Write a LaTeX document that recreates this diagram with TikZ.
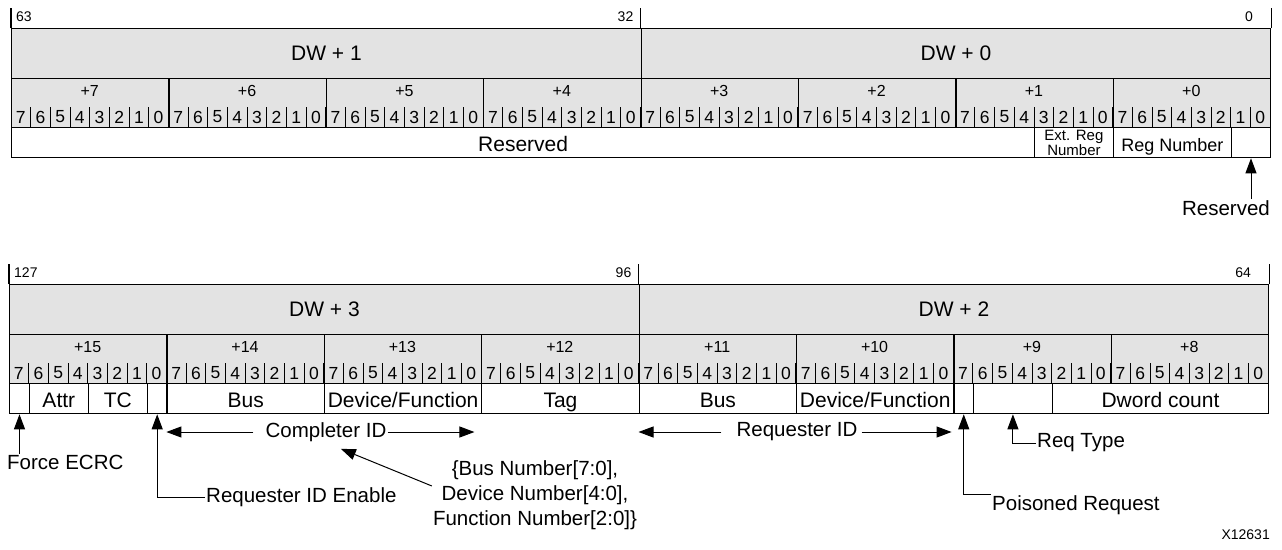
\documentclass[tikz,border=0pt]{standalone}
\usepackage{fontspec}
\setmainfont{Liberation Sans}
\usetikzlibrary{calc,positioning,arrows.meta}
\definecolor{hdrgray}{HTML}{E3E3E3}
\newcommand\bitw{19.672}
\tikzset{
    dw cell/.style={
        draw,line width=1.3pt,fill=hdrgray,anchor=north west,
        minimum width={32*\bitw},minimum height=50,inner sep=0pt,
        font=\fontsize{21}{21}\selectfont
    },
    byte cell/.style={
        draw,line width=1.3pt,fill=hdrgray,anchor=north west,
        minimum width={8*\bitw},minimum height=49,inner sep=0pt
    },
    byte label/.style={inner sep=0pt,font=\fontsize{16}{16}\selectfont},
    bit label/.style={inner sep=0pt,font=\fontsize{17.5}{17.5}\selectfont},
    tick label/.style={inner sep=1pt,font=\fontsize{14}{14}\selectfont},
    field box/.style={
        draw,line width=1.3pt,fill=white,anchor=north west,
        minimum height=30,inner sep=0pt,align=center,
        font=\fontsize{21}{21}\selectfont
    },
    field/.style={field box,text height=19,text depth=2},
    callout/.style={inner sep=1pt,font=\fontsize{20.5}{20.5}\selectfont},
    pointer/.style={line width=1pt},
    >={Triangle[length=15pt,width=11pt]}
}
\begin{document}
\begin{tikzpicture}[x=1pt,y=-1pt]
\useasboundingbox (0,0) rectangle (1282,549);
\foreach \hx/\hy/\hib/\dwa/\dwb/\midb/\lob/\ba in {11/28/63/1/0/32/0/7,9/284/127/3/2/96/64/15} {
    \node[dw cell] (dw-\dwa) at (\hx,\hy) {DW + \dwa};
    \node[dw cell] (dw-\dwb) at ({\hx+32*\bitw},\hy) {DW + \dwb};
    \draw[line width=1.3pt] (dw-\dwa.north west) -- ++(0,-20);
    \draw[line width=1.3pt] (dw-\dwb.north west) -- ++(0,-20);
    \draw[line width=1.3pt] (dw-\dwb.north east) -- ++(0,-20);
    \node[tick label,anchor=west] (tk-\hib) at (\hx+4,\hy-11) {\hib};
    \node[tick label,anchor=east] (tk-\midb) at ({\hx+32*\bitw-6},\hy-11) {\midb};
    \node[tick label,anchor=east] (tk-\lob) at ({\hx+64*\bitw-16},\hy-11) {\lob};
    \foreach \k in {0,...,7} {
        \pgfmathtruncatemacro\bn{\ba-\k}
        \node[byte cell] (by-\bn) at ({\hx+8*\k*\bitw},\hy+50) {};
        \node[byte label] (byl-\bn) at ({\hx+(8*\k+4)*\bitw},\hy+63) {+\bn};
    }
    \foreach \j in {1,...,63}
        \draw[line width=0.9pt] ({\hx+\j*\bitw},\hy+79) -- ({\hx+\j*\bitw},\hy+99);
    \foreach \j in {0,...,63} {
        \pgfmathtruncatemacro\d{7-mod(\j,8)}
        \node[bit label] (bit-\hib-\j) at ({\hx+(\j+0.5)*\bitw},\hy+89) {\d};
    }
}
\node[field,minimum width={52*\bitw}] (f-rsvd) at (11,127) {Reserved};
\node[field box,minimum width={4*\bitw},font=\fontsize{15}{12}\selectfont] (f-extreg) at ({11+52*\bitw},127) {Ext. Reg\\Number};
\node[field,minimum width={6*\bitw},font=\fontsize{18}{18}\selectfont] (f-regnum) at ({11+56*\bitw},127) {Reg Number};
\node[field,minimum width={2*\bitw}] (f-rsv0) at ({11+62*\bitw},127) {};
\foreach \nm/\hi/\n/\txt in {fecrc/127/1/{},attr/126/3/Attr,tc/123/3/TC,riden/120/1/{},cbus/119/8/Bus,cdevfn/111/8/{Device/Function},tag/103/8/Tag,rbus/95/8/Bus,rdevfn/87/8/{Device/Function},poison/79/1/{},rtype/78/4/{},dwcnt/74/11/Dword count}
    \node[field,minimum width={\n*\bitw}] (f-\nm) at ({9+(127-\hi)*\bitw},383) {\txt};
\node[callout,anchor=north east] (l-rsv0) at (1271,199) {Reserved};
\draw[pointer,->] (l-rsv0.north -| f-rsv0.south) -- (f-rsv0.south);
\node[callout,anchor=north west] (l-fecrc) at (6,454) {Force ECRC};
\draw[pointer,->] (l-fecrc.north -| f-fecrc.south) -- (f-fecrc.south);
\node[callout,anchor=west] (l-riden) at (205,497) {Requester ID Enable};
\draw[pointer,->] (l-riden.west) -| (f-riden.south);
\node[callout] (l-cpl) at (326,432) {Completer ID};
\draw[pointer,->,shorten <=11] (l-cpl.west) -- (l-cpl.west -| f-cbus.south west);
\draw[pointer,->,shorten >=8] (l-cpl.east) -- (l-cpl.east -| f-cdevfn.south east);
\node[callout] (l-req) at (797,432) {Requester ID};
\draw[pointer,->,shorten <=14] (l-req.west) -- (l-req.west -| f-rbus.south west);
\draw[pointer,->,shorten <=3,shorten >=3] (l-req.east) -- (l-req.east -| f-rdevfn.south east);
\node[callout,align=center,font=\fontsize{20.5}{25}\selectfont] (l-bdf) at (535,495) {\{Bus Number[7:0],\\Device Number[4:0],\\Function Number[2:0]\}};
\draw[pointer,->,shorten >=16] (l-bdf.175) -- (l-cpl.south);
\node[callout,anchor=north west] (l-pois) at (991,494) {Poisoned Request};
\draw[pointer,->] (l-pois.north west) -| (f-poison.south);
\node[callout,anchor=west] (l-rtype) at (1036,443) {Req Type};
\draw[pointer,->] (l-rtype.west) -| (f-rtype.south);
\node[tick label,anchor=east] (fig-id) at (1271,535) {X12631};
\end{tikzpicture}
\end{document}
